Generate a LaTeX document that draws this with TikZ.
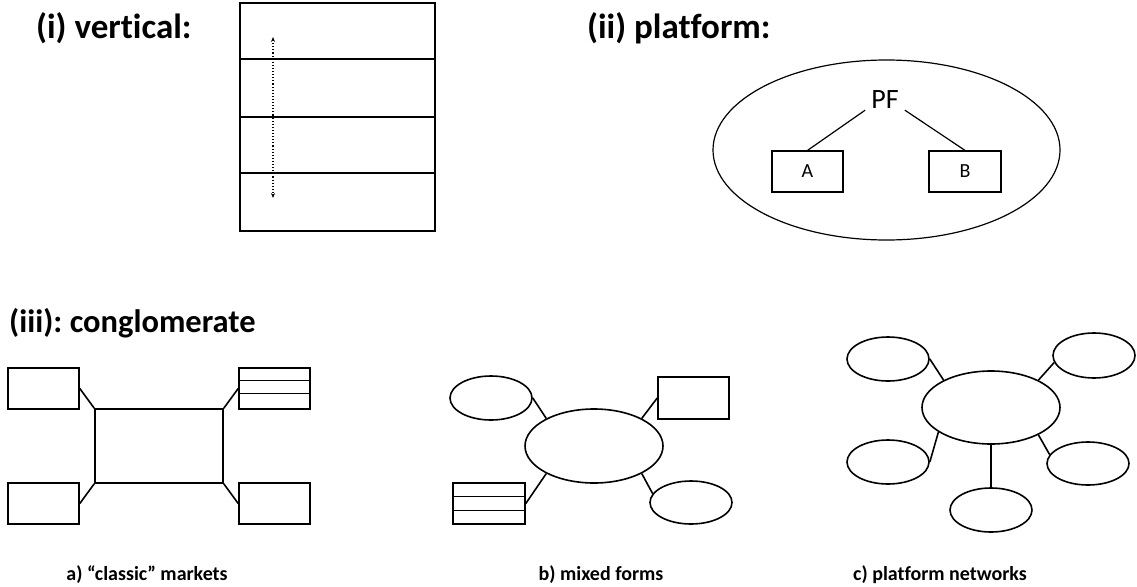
\documentclass[tikz,border=0pt]{standalone}
\usepackage{fontspec}
\setmainfont{Carlito}[Ligatures=NoCommon]
\usetikzlibrary{shapes.geometric,calc,arrows.meta}
\begin{document}
\frenchspacing
\begin{tikzpicture}[x=1pt,y=-1pt,
  heading/.style={font=\fontsize{35}{40}\selectfont\bfseries, inner sep=0pt, anchor=base west},
  caption/.style={font=\fontsize{20}{24}\selectfont\bfseries, inner sep=0pt, anchor=base},
  box/.style={draw, line width=1.6pt, rectangle, inner sep=0pt},
  oval/.style={draw, line width=1.6pt, ellipse, inner sep=0pt},
  link/.style={line width=1.6pt},
  thin/.style={line width=1.1pt},
  pbox/.style={draw, line width=1.2pt, inner sep=0pt, minimum width=71, minimum height=41, font=\fontsize{20}{24}\selectfont}]
\useasboundingbox (0,0) rectangle (1137,586);
% headings
\node[heading] (hv) at (36,39) {(i) vertical:};
\node[heading] (hp) at (587,39) {(ii) platform:};
\node[heading, font=\fontsize{32.5}{38}\selectfont\bfseries] (hc) at (9,332) {(iii): conglomerate};
% (i) vertical
\node[box, minimum width=195, minimum height=228] (vbox) at (337.5,117) {};
\draw[line width=2pt] ($(vbox.north west)+(0,57)$) coordinate (l1a) -- ($(vbox.north east)+(0,57)$) coordinate (l1b);
\draw[line width=2pt] ($(vbox.north west)+(0,115)$) coordinate (l2a) -- ($(vbox.north east)+(0,115)$) coordinate (l2b);
\draw[line width=2pt] ($(vbox.north west)+(0,171)$) coordinate (l3a) -- ($(vbox.north east)+(0,171)$) coordinate (l3b);
\coordinate (atop) at (273,37);
\coordinate (abot) at (273,198);
\draw[dotted, line width=1.1pt, {Stealth[length=5pt,width=4pt]}-{Stealth[length=5pt,width=4pt]}] (atop) -- (abot);
% (ii) platform
\node[draw, line width=1.2pt, ellipse, inner sep=0pt, minimum width=347, minimum height=180] (pfo) at (886.5,150) {};
\node[font=\fontsize{28}{32}\selectfont, inner xsep=6pt, inner ysep=1pt] (pf) at (885,100) {PF};
\node[pbox] (pa) at (807.5,171.5) {A};
\node[pbox, minimum width=72] (pb) at (965,171.5) {B};
\draw[line width=1.2pt] (pf.south west) -- (pa.north);
\draw[line width=1.2pt] (pf.south east) -- (pb.north);
% (iii a) classic markets
\node[box, minimum width=128, minimum height=74] (ac) at (159,446) {};
\node[box, minimum width=71, minimum height=41] (atl) at (43.5,388.5) {};
\node[box, minimum width=71, minimum height=41] (atr) at (274.5,388.5) {};
\node[box, minimum width=71, minimum height=41] (abl) at (43.5,503.5) {};
\node[box, minimum width=71, minimum height=41] (abr) at (274.5,503.5) {};
\draw[thin] ($(atr.north west)+(0,13)$) -- ($(atr.north east)+(0,13)$);
\draw[thin] ($(atr.north west)+(0,26)$) -- ($(atr.north east)+(0,26)$);
\draw[link] (atl.east) -- (ac.north west);
\draw[link] (atr.west) -- (ac.north east);
\draw[link] (abl.east) -- (ac.south west);
\draw[link] (abr.west) -- (ac.south east);
% (iii b) mixed forms
\node[oval, minimum width=138, minimum height=74] (bc) at (594,446) {};
\node[oval, minimum width=82, minimum height=44] (btl) at (491,398) {};
\node[box, minimum width=71, minimum height=42] (btr) at (693.5,398) {};
\node[box, minimum width=72, minimum height=41] (bbl) at (489,503.5) {};
\node[oval, minimum width=82, minimum height=43] (bbr) at (691,502.5) {};
\draw[thin] ($(bbl.north west)+(0,14)$) -- ($(bbl.north east)+(0,14)$);
\draw[thin] ($(bbl.north west)+(0,28)$) -- ($(bbl.north east)+(0,28)$);
\draw[link] (btl.east) -- (bc.150);
\draw[link] (btr.west) -- (bc.30);
\draw[link] (bbl.east) -- (bc.210);
\draw[link] (bbr.167) -- (bc.-30);
% (iii c) platform networks
\node[oval, minimum width=138, minimum height=73] (cc) at (991,407.5) {};
\node[oval, minimum width=82, minimum height=44] (ctl) at (888,359) {};
\node[oval, minimum width=82, minimum height=45] (ctr) at (1094,355.5) {};
\node[oval, minimum width=82, minimum height=44] (cbl) at (888,462) {};
\node[oval, minimum width=82, minimum height=43] (cbr) at (1088,463.5) {};
\node[oval, minimum width=82, minimum height=44] (cbo) at (991,510) {};
\draw[link] (ctl.east) -- (cc.150);
\draw[link] (ctr.190) -- (cc.30);
\draw[link] (cbl.east) -- (cc.205);
\draw[link] (cbr.167) -- (cc.-30);
\draw[link] (cc.south) -- (cbo.north);
% captions
\node[caption] (ca) at (147,580) {a) “classic” markets};
\node[caption] (cb) at (601,580) {b) mixed forms};
\node[caption] (ccap) at (940,580) {c) platform networks};
\end{tikzpicture}
\end{document}
